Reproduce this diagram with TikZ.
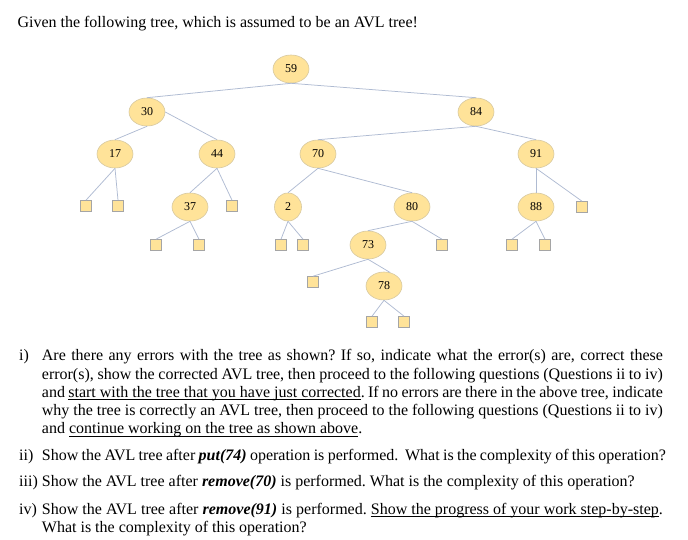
\documentclass[tikz,border=0pt]{standalone}
\usepackage{fontspec}
\setmainfont{Liberation Serif}
\usetikzlibrary{shapes.geometric}
\definecolor{avlFill}{RGB}{255, 227, 153}
\definecolor{avlLine}{RGB}{214, 200, 160}
\definecolor{leafLine}{RGB}{165, 165, 165}
\definecolor{edgeBlue}{RGB}{175, 187, 210}
\newcommand{\undr}[1]{\setbox0\hbox{#1}\rlap{\rule[-2.6pt]{\wd0}{0.9pt}}\box0}

\begin{document}
\begin{tikzpicture}[
  x=1pt, y=-1pt,
  avl/.style={
    ellipse,
    draw=avlLine,
    fill=avlFill,
    line width=0.6pt,
    inner sep=0pt,
    minimum width=36pt,
    minimum height=28pt,
    font=\fontsize{12}{12}\selectfont
  },
  leaf/.style={
    rectangle,
    draw=leafLine,
    fill=avlFill,
    line width=0.6pt,
    minimum size=11pt,
    inner sep=0pt
  },
  link/.style={draw=edgeBlue, line width=0.75pt},
  txt/.style={anchor=base west, inner sep=0pt,
    font=\fontsize{16}{18.3}\selectfont\frenchspacing},
  para/.style={txt, text width=621pt, align=justify}
]
  \useasboundingbox (0,0) rectangle (688,540);

  % ── Titre ──────────────────────────────────────────────────────
  \node[txt] (title) at (17.3, 27.7) {Given the following tree, which is assumed to be an AVL tree!};

  % ── Noeuds de l'arbre ─────────────────────────────────────────
  \node[avl] (n59) at (291,  69) {59};
  \node[avl] (n30) at (147, 112) {30};
  \node[avl] (n84) at (476, 112) {84};

  \node[avl] (n17) at (115, 154) {17};
  \node[avl] (n44) at (217, 154) {44};
  \node[avl] (n70) at (318, 154) {70};
  \node[avl] (n91) at (536, 154) {91};

  \node[avl] (n37) at (190, 207) {37};
  \node[avl, minimum width=27pt] (n2) at (288, 207) {2};
  \node[avl] (n80) at (412, 207) {80};
  \node[avl] (n88) at (536, 207) {88};

  \node[avl] (n73) at (368, 245) {73};
  \node[avl] (n78) at (384, 286) {78};

  % ── Feuilles vides ────────────────────────────────────────────
  \foreach \N/\X/\Y in {l17a/86/206, l17b/118/206, l44b/232/206,
                        l37a/156/245, l37b/199/245, l2a/281/245, l2b/303/245,
                        l73a/313/282, l80b/442/245, l88a/512/245, l88b/545/245,
                        l91b/582/207, l78a/372/322, l78b/404/322} {
    \node[leaf] (\N) at (\X, \Y) {};
  }

  % ── Aretes (parent vers enfant) ───────────────────────────────
  \foreach \P/\C in {n59/n30, n59/n84, n30/n17, n84/n70, n84/n91,
                     n17/l17a, n17/l17b, n44/n37, n44/l44b, n70/n2, n70/n80,
                     n91/n88, n91/l91b, n37/l37a, n37/l37b, n2/l2a, n2/l2b,
                     n80/n73, n80/l80b, n88/l88a, n88/l88b, n73/l73a,
                     n78/l78a, n78/l78b} {
    \draw[link] (\P.south) -- (\C.north);
  }
  \draw[link] (n30.east)  -- (n44.north);
  \draw[link] (n73.south) -- (n78.65);

  % ── Questions ─────────────────────────────────────────────────
  \node[txt] (lab1) at (19, 360.7) {i)};
  \node[para] (q1) at (41.7, 360.7) {Are there any errors with the tree as shown? If so, indicate what the error(s) are, correct these\linebreak
    error(s), show the corrected AVL tree, then proceed to the following questions (Questions ii to iv)\linebreak
    and \undr{start with the tree that you have just corrected}. If no errors are there in the above tree, indicate\linebreak
    why the tree is correctly an AVL tree, then proceed to the following questions (Questions ii to iv)\linebreak
    and \undr{continue working on the tree as shown above}.};

  \node[txt] (lab2) at (19, 460.7) {ii)};
  \node[txt] (q2) at (41.7, 460.7) {\makebox[624pt][s]{Show the AVL tree after \textbf{\textit{put(74)}} operation is performed.\ \ What is the complexity of this operation?}};

  \node[txt] (lab3) at (19, 486.7) {iii)};
  \node[txt] (q3) at (41.7, 486.7) {Show the AVL tree after \textbf{\textit{remove(70)}} is performed. What is the complexity of this operation?};

  \node[txt] (lab4) at (19, 514) {iv)};
  \node[para] (q4) at (41.7, 514) {Show the AVL tree after \textbf{\textit{remove(91)}} is performed. \undr{Show the progress of your work step-by-step}.\linebreak
    What is the complexity of this operation?};

\end{tikzpicture}
\end{document}
